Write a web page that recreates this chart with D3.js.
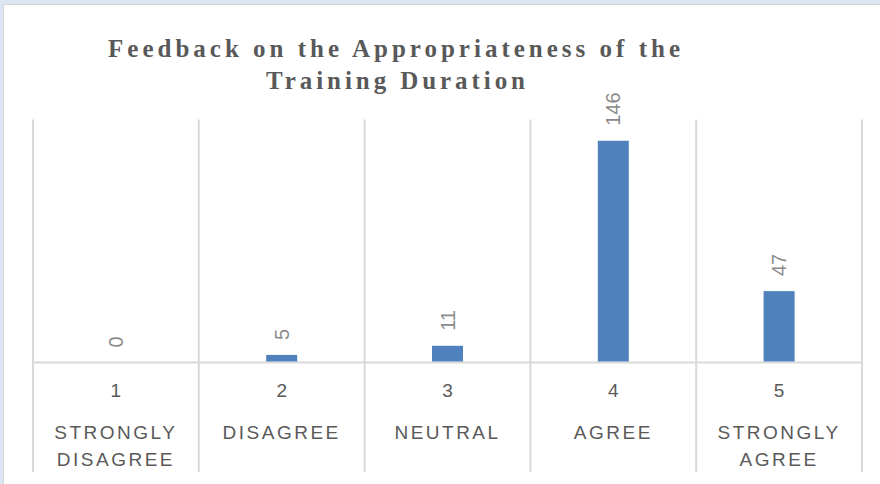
<!DOCTYPE html>
<html>
<head>
<meta charset="utf-8">
<script src="https://cdn.jsdelivr.net/npm/d3@7"></script>
<style>
  body { margin: 0; background: #fff; }
  svg { display: block; }
</style>
</head>
<body>
<script>
// chart data
var codes = ["1", "2", "3", "4", "5"];
var labels = [["STRONGLY", "DISAGREE"], ["DISAGREE"], ["NEUTRAL"], ["AGREE"], ["STRONGLY", "AGREE"]];
var counts = [0, 5, 11, 146, 47];
var titleLines = ["Feedback on the Appropriateness of the", "Training Duration"];
var yMax = 160;

var width = 880, height = 484;
// plot box (window.top is reserved, so prefixed names)
var plotLeft = 33, plotRight = 862, plotTop = 119.5, plotBase = 362.5, plotBottom = 472;

var svg = d3.select("body").append("svg")
    .attr("width", width)
    .attr("height", height);

// frame strips (top / left)
svg.append("rect").attr("x", 0).attr("y", 0).attr("width", width).attr("height", 4).attr("fill", "#dce6f2");
svg.append("rect").attr("x", 0).attr("y", 0).attr("width", 3).attr("height", height).attr("fill", "#dce6f2");
svg.append("line").attr("x1", 3).attr("x2", width).attr("y1", 4.5).attr("y2", 4.5).attr("stroke", "#d4d4d4");
svg.append("line").attr("x1", 3.5).attr("x2", 3.5).attr("y1", 4).attr("y2", height).attr("stroke", "#d4d4d4");

var x = d3.scaleBand()
    .domain(codes)
    .range([plotLeft, plotRight])
    .paddingInner(0.813)
    .paddingOuter(0.4065);

var y = d3.scaleLinear()
    .domain([0, yMax])
    .range([plotBase, plotTop]);

var step = x.step();
var bounds = codes.map(function (c) { return x(c) - (step - x.bandwidth()) / 2; });
bounds.push(plotRight);

// category separators
svg.append("g")
    .selectAll("line")
    .data(bounds)
    .enter().append("line")
    .attr("x1", function (d) { return d; })
    .attr("x2", function (d) { return d; })
    .attr("y1", plotTop)
    .attr("y2", plotBottom)
    .attr("stroke", "#d9d9d9")
    .attr("stroke-width", 2);

// baseline
svg.append("line")
    .attr("x1", plotLeft).attr("x2", plotRight)
    .attr("y1", plotBase).attr("y2", plotBase)
    .attr("stroke", "#d9d9d9")
    .attr("stroke-width", 2);

// bars
svg.append("g")
    .selectAll("rect")
    .data(counts)
    .enter().append("rect")
    .attr("x", function (d, i) { return x(codes[i]); })
    .attr("width", x.bandwidth())
    .attr("y", function (d) { return y(d); })
    .attr("height", function (d) { return Math.max(0, y(0) - y(d) - 1); })
    .attr("fill", "#4f81bd");

// data labels, rotated
svg.append("g")
    .selectAll("text")
    .data(counts)
    .enter().append("text")
    .attr("transform", function (d, i) {
        return "translate(" + (x(codes[i]) + x.bandwidth() / 2) + "," + (y(d) - 15) + ") rotate(-90)";
    })
    .attr("dy", "0.35em")
    .attr("font-family", "Liberation Sans, Arial, sans-serif")
    .attr("font-size", 20)
    .attr("fill", "#8a8a8a")
    .text(function (d) { return d; });

// category codes
svg.append("g")
    .selectAll("text")
    .data(codes)
    .enter().append("text")
    .attr("x", function (d) { return x(d) + x.bandwidth() / 2; })
    .attr("y", 397)
    .attr("text-anchor", "middle")
    .attr("font-family", "Liberation Sans, Arial, sans-serif")
    .attr("font-size", 19)
    .attr("fill", "#595959")
    .text(function (d) { return d; });

// category names
svg.append("g")
    .selectAll("text")
    .data(labels)
    .enter().append("text")
    .attr("text-anchor", "middle")
    .attr("font-family", "Liberation Sans, Arial, sans-serif")
    .attr("font-size", 19)
    .attr("letter-spacing", 2.5)
    .attr("fill", "#595959")
    .each(function (d, i) {
        var cx = x(codes[i]) + x.bandwidth() / 2;
        d3.select(this).selectAll("tspan")
            .data(d)
            .enter().append("tspan")
            .attr("x", cx)
            .attr("y", function (t, j) { return 439 + j * 26.5; })
            .text(function (t) { return t; });
    });

// title
var titleX = [108, 266], titleY = [57, 89], titleW = [572, 259];
svg.append("g")
    .selectAll("text")
    .data(titleLines)
    .enter().append("text")
    .attr("x", function (d, i) { return titleX[i]; })
    .attr("y", function (d, i) { return titleY[i]; })
    .attr("textLength", function (d, i) { return titleW[i]; })
    .attr("lengthAdjust", "spacing")
    .attr("font-family", "Liberation Serif, Times New Roman, serif")
    .attr("font-weight", "bold")
    .attr("font-size", 25)
    .attr("fill", "#595959")
    .text(function (d) { return d; });
</script>
</body>
</html>
